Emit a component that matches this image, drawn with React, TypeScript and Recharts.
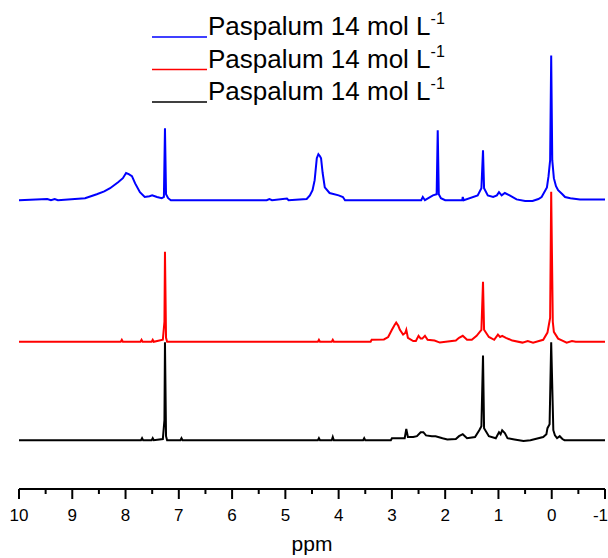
import { LineChart, Line, XAxis, YAxis } from "recharts";

// chemical shift (ppm) and intensity (a.u., above each trace's own baseline)
const blueShift = [10, 9.47, 9.4, 9.33, 9.27, 8.76, 8.65, 8.54, 8.4, 8.29, 8.14, 8.05, 7.99, 7.94, 7.88, 7.82, 7.73, 7.64, 7.55, 7.5, 7.41, 7.32, 7.28, 7.26, 7.24, 7.2, 7.15, 5.35, 5.3, 5.25, 4.97, 4.94, 4.6, 4.54, 4.49, 4.45, 4.41, 4.38, 4.35, 4.33, 4.3, 4.26, 4.17, 4.0, 3.92, 3.88, 2.45, 2.42, 2.38, 2.23, 2.16, 2.14, 2.12, 2.08, 2.0, 1.68, 1.67, 1.65, 1.39, 1.32, 1.29, 1.27, 1.2, 1.1, 1.03, 0.99, 0.94, 0.88, 0.79, 0.66, 0.5, 0.36, 0.25, 0.19, 0.09, 0.06, 0.03, 0.01, -0.01, -0.04, -0.08, -0.12, -0.2, -0.25, -0.35, -0.53, -1];
const blueIntensity = [0, 0.3, 0, 0.3, 0, 0.5, 1.0, 1.5, 2.2, 3.0, 4.5, 5.5, 6.8, 6.5, 6.0, 4.2, 2.0, 0.8, 1.0, 1.2, 0.8, 0.5, 0.8, 18.0, 1.5, 0.5, 0, 0, 0.3, 0, 0.4, 0, 0.3, 1.2, 2.5, 5.0, 10.5, 11.5, 11.0, 10.5, 6.8, 3.2, 1.8, 1.2, 0.8, 0, 0, 0.8, 0, 1.2, 1.5, 17.5, 1.5, 0.5, 0, 0, 0.8, 0, 1.2, 3.0, 12.5, 3.0, 1.2, 0.8, 1.2, 2.0, 1.2, 1.8, 1.2, 0.2, -0.2, -0.2, 0.3, 0.8, 3.2, 6.0, 10, 36.2, 10, 5.5, 3.5, 2.5, 1.5, 0.8, 0.5, 0.2, 0.2];

const redShift = [10, 8.09, 8.07, 8.05, 7.72, 7.7, 7.68, 7.51, 7.49, 7.47, 7.3, 7.27, 7.26, 7.24, 7.22, 4.39, 4.37, 4.35, 4.13, 4.11, 4.09, 3.4, 3.38, 3.15, 3.07, 3.0, 2.95, 2.92, 2.88, 2.85, 2.79, 2.75, 2.73, 2.7, 2.6, 2.55, 2.5, 2.46, 2.43, 2.38, 2.33, 2.2, 2.1, 1.8, 1.74, 1.67, 1.59, 1.5, 1.41, 1.32, 1.29, 1.27, 1.18, 1.08, 1.01, 0.97, 0.93, 0.86, 0.74, 0.55, 0.45, 0.35, 0.24, 0.16, 0.08, 0.03, 0.01, -0.02, -0.04, -0.12, -0.2, -0.28, -0.38, -0.45, -1];
const redIntensity = [0, 0, 0.5, 0, 0, 0.5, 0, 0, 0.5, 0, 0.5, 5, 22.5, 1, 0, 0, 0.5, 0, 0, 0.5, 0, 0, 0.5, 0.6, 1.2, 3.0, 4.2, 4.8, 4.0, 3.0, 1.8, 2.2, 3.0, 1.0, 0.2, 0.2, 1.5, 0.8, 0.8, 1.5, 0.5, 0.3, -0.2, 0.3, 1.0, 1.5, 0.5, 0.5, 1.5, 3.0, 15, 3.0, 1.2, 0.5, 1.8, 1.2, 1.5, 1.0, 0.3, -0.2, 0.2, -0.2, 0.2, 0.5, 2.3, 6, 37.5, 5, 2.5, 0.8, 0.3, -0.2, 0.2, 0, 0];

const blackShift = [10, 7.71, 7.69, 7.67, 7.51, 7.49, 7.47, 7.3, 7.27, 7.26, 7.24, 7.22, 6.97, 6.95, 6.93, 4.39, 4.37, 4.35, 4.13, 4.11, 4.09, 3.54, 3.52, 3.5, 3.02, 3.0, 2.76, 2.73, 2.7, 2.6, 2.53, 2.46, 2.41, 2.36, 2.25, 2.18, 2.05, 1.96, 1.8, 1.74, 1.67, 1.59, 1.44, 1.36, 1.32, 1.29, 1.27, 1.18, 1.05, 0.99, 0.96, 0.93, 0.88, 0.83, 0.7, 0.53, 0.4, 0.16, 0.1, 0.08, 0.04, 0.01, -0.03, -0.06, -0.1, -0.15, -0.2, -0.24, -1];
const blackIntensity = [0, 0, 0.5, 0, 0, 0.5, 0, 0.3, 5, 24.5, 1, 0, 0, 0.5, 0, 0, 0.5, 0, 0, 0.8, 0, 0, 0.5, 0, 0, 0.5, 0.5, 2.8, 0.8, 0.8, 1.0, 2.0, 2.0, 1.2, 1.0, 1.0, 0.5, 0.2, 0.3, 1.0, 1.5, 0.5, 0.8, 2.5, 3.5, 21.2, 3.0, 1.0, 0.5, 2.0, 1.5, 2.5, 1.8, 0.5, 0.2, -0.2, 0, 0.8, 1.5, 3.0, 4, 24.5, 2.5, 1.2, 0.5, 1.0, 0.3, 0, 0];

// vertical stacking of the three spectra
const blueOffset = 72.2;
const redOffset = 36.8;
const blackOffset = 12.2;

const ppmTicks = [10, 9.5, 9, 8.5, 8, 7.5, 7, 6.5, 6, 5.5, 5, 4.5, 4, 3.5, 3, 2.5, 2, 1.5, 1, 0.5, 0, -0.5, -1];

const legendColors = ["#0000FF", "#FF0000", "#000000"];
const legendNames = ["Paspalum 14 mol L", "Paspalum 14 mol L", "Paspalum 14 mol L"];
const legendExp = "-1";

const toSeries = (shift: number[], intensity: number[], offset: number) =>
  shift.map((ppm, i) => ({ ppm, y: intensity[i] + offset }));

const FONT = "Arial, 'Liberation Sans', sans-serif";

function PpmTick({ x, y, payload }: any) {
  const v = payload.value as number;
  const major = Number.isInteger(v);
  // last label sits at the right edge, keep it inside
  const edge = v === -1;
  return (
    <g>
      <line x1={x} x2={x} y1={y} y2={y + (major ? 10 : 5)} stroke="#000" strokeWidth={2} />
      {major && (
        <text
          x={edge ? x + 3 : x}
          y={y + 32}
          textAnchor={edge ? "end" : "middle"}
          fontSize={17}
          fontFamily={FONT}
          fill="#000"
        >
          {v}
        </text>
      )}
    </g>
  );
}

export default function App() {
  const blue = toSeries(blueShift, blueIntensity, blueOffset);
  const red = toSeries(redShift, redIntensity, redOffset);
  const black = toSeries(blackShift, blackIntensity, blackOffset);

  return (
    <div style={{ position: "absolute", left: 0, top: 0, width: 608, height: 558, background: "#fff" }}>
      <LineChart width={608} height={558} margin={{ top: 49, right: 3, bottom: 9, left: 19 }}>
        <XAxis
          dataKey="ppm"
          type="number"
          domain={[-1, 10]}
          reversed
          ticks={ppmTicks}
          interval={0}
          height={60}
          tickSize={0}
          tickMargin={0}
          tickLine={false}
          tick={<PpmTick />}
          axisLine={{ stroke: "#000", strokeWidth: 2 }}
          label={{ value: "ppm", position: "insideBottom", offset: -2, fontSize: 21, fill: "#000", fontFamily: FONT }}
        />
        <YAxis hide type="number" domain={[0, 110]} allowDataOverflow />
        <Line data={black} dataKey="y" type="linear" stroke="#000000" strokeWidth={2} dot={false} activeDot={false} isAnimationActive={false} />
        <Line data={red} dataKey="y" type="linear" stroke="#FF0000" strokeWidth={2} dot={false} activeDot={false} isAnimationActive={false} />
        <Line data={blue} dataKey="y" type="linear" stroke="#0000FF" strokeWidth={2} dot={false} activeDot={false} isAnimationActive={false} />
      </LineChart>
      <svg width={608} height={115} style={{ position: "absolute", left: 0, top: 0, pointerEvents: "none" }}>
        {legendNames.map((name, i) => (
          <g key={i}>
            <line x1={152} x2={207} y1={37 + i * 32.5} y2={37 + i * 32.5} stroke={legendColors[i]} strokeWidth={1.5} />
            <text x={208} y={35 + i * 32.5} fontSize={26} fontFamily={FONT} fill="#000">
              {name}
              <tspan dy={-11} fontSize={16}>{legendExp}</tspan>
            </text>
          </g>
        ))}
      </svg>
    </div>
  );
}
